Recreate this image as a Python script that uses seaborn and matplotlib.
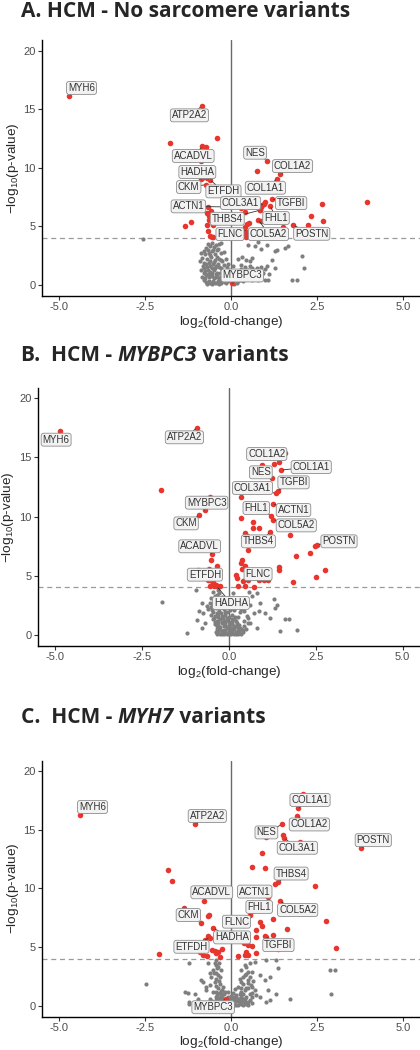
import numpy as np
import pandas as pd
import matplotlib
matplotlib.use('Agg')
import matplotlib.pyplot as plt
import seaborn as sns

# ---- data (log2 fold-change, -log10 p) ----
genes_a = ['MYH6', 'ATP2A2', 'ACADVL', 'HADHA', 'CKM', 'ETFDH', 'NES', 'COL1A2', 'COL1A1',
           'ACTN1', 'COL3A1', 'TGFBI', 'THBS4', 'FHL1', 'FLNC', 'COL5A2', 'POSTN', 'MYBPC3']
gene_fc_a = [-4.72, -0.85, -0.83, -0.87, -0.73, -0.61, 1.04, 1.43, 1.35,
             0.87, 0.91, 1.18, 0.85, 1.14, 0.42, 0.80, 1.81, 0.03]
gene_p_a = [16.13, 15.24, 11.82, 9.03, 8.55, 8.97, 10.60, 9.43, 9.06,
            6.61, 6.84, 7.32, 6.38, 6.75, 4.64, 5.56, 5.10, 0.15]
red_a = [(-0.42, 12.54), (-1.78, 12.11), (-0.73, 11.74), (-0.87, 10.6), (-0.83, 9.09), (-0.69, 9.09),
         (-0.68, 6.64), (-0.57, 6.32), (-0.71, 6.1), (-0.63, 5.84), (-0.65, 5.5), (-0.71, 5.1),
         (-0.52, 5.07), (-0.68, 4.64), (-0.61, 4.2), (-0.52, 4.1), (-0.55, 4.05), (-1.34, 4.99),
         (-1.15, 5.36), (0.75, 9.74), (1.0, 7.09), (0.85, 6.38), (0.40, 6.21), (0.87, 5.41),
         (0.51, 5.27), (0.46, 5.21), (0.42, 4.93), (0.43, 4.36), (0.44, 4.05), (1.59, 6.09),
         (1.50, 4.98), (2.64, 6.92), (2.34, 5.87), (2.69, 5.41), (2.25, 5.15), (3.96, 7.07),
         (0.30, 6.6), (0.95, 6.9)]
grey_a = [(-0.68, 3.5), (-0.55, 3.55), (-0.45, 3.4), (-0.62, 3.3), (-0.35, 3.45), (-0.5, 3.2),
          (-0.28, 3.6), (-0.72, 3.15), (-0.8, 2.9), (-0.66, 3.0), (-0.55, 2.85), (-0.42, 2.95),
          (-0.3, 2.7), (-0.75, 2.6), (-0.6, 2.55), (-0.48, 2.65), (-0.88, 2.75), (-0.2, 2.8),
          (-0.85, 2.3), (-0.7, 2.2), (-0.58, 2.35), (-0.46, 2.1), (-0.35, 2.25), (-0.25, 2.0),
          (-0.8, 1.9), (-0.65, 1.85), (-0.5, 1.95), (-0.38, 1.8), (-0.15, 2.2), (-0.9, 2.05),
          (-0.82, 1.6), (-0.7, 1.5), (-0.6, 1.65), (-0.48, 1.4), (-0.36, 1.55), (-0.25, 1.3),
          (-0.12, 1.5), (-0.75, 1.2), (-0.62, 1.1), (-0.5, 1.25), (-0.4, 1.05), (-0.18, 1.1),
          (-0.05, 1.3), (-0.88, 1.3), (-0.85, 0.7), (-0.72, 0.8), (-0.6, 0.9), (-0.5, 0.6),
          (-0.4, 0.8), (-0.3, 0.7), (-0.2, 0.9), (-0.1, 0.75), (-0.78, 0.4), (-0.65, 0.3),
          (-0.52, 0.35), (-0.42, 0.2), (-0.32, 0.4), (-0.22, 0.3), (-0.12, 0.45), (-0.02, 0.55),
          (-0.7, 0.1), (-0.55, 0.1), (-0.35, 0.08), (-0.15, 0.12), (0.05, 0.2), (0.12, 0.5),
          (0.2, 0.3), (0.1, 0.05), (0.28, 0.6), (0.2, 2.2), (0.32, 2.35), (0.45, 2.1), (0.55, 2.0),
          (0.6, 2.3), (0.75, 1.45), (0.88, 1.5), (0.98, 1.35), (1.05, 1.6), (0.6, 1.2), (0.5, 0.9),
          (0.7, 1.0), (0.35, 1.0), (0.25, 0.8), (0.45, 0.5), (0.65, 0.6), (0.85, 0.7), (1.0, 0.4),
          (0.4, 1.5), (0.3, 1.7), (0.15, 1.2), (0.55, 1.6), (-2.55, 3.93), (0.5, 3.4), (0.7, 3.3),
          (0.87, 3.1), (1.04, 3.36), (0.78, 3.65), (1.28, 2.85), (1.57, 3.13), (2.06, 2.48),
          (2.11, 1.42), (1.77, 0.43), (1.91, 0.43), (1.18, 2.14), (1.28, 1.42), (1.09, 0.43),
          (1.11, 0.91), (1.33, 2.99), (1.67, 3.33),
          (-0.8, 1.0), (-0.68, 0.95), (-0.56, 1.0), (-0.45, 0.95), (-0.33, 1.0), (-0.22, 1.05),
          (-0.1, 1.0), (0.0, 0.95), (-0.75, 0.6), (-0.63, 0.65), (-0.55, 0.75), (-0.45, 0.7),
          (-0.35, 0.6), (-0.25, 0.75), (-0.15, 0.65), (-0.05, 0.8), (0.05, 0.7), (0.15, 0.85),
          (-0.72, 0.25), (-0.6, 0.2), (-0.48, 0.15), (-0.38, 0.3), (-0.28, 0.2), (-0.18, 0.25),
          (-0.08, 0.3), (0.02, 0.4), (0.18, 0.15), (0.25, 0.45), (0.35, 0.3), (0.38, 0.7),
          (-0.78, 1.4), (-0.66, 1.3), (-0.55, 1.45), (-0.43, 1.6), (-0.3, 1.45), (-0.2, 1.7),
          (-0.08, 1.8), (0.05, 1.6), (-0.72, 1.75), (-0.6, 2.0), (-0.53, 1.8), (-0.42, 2.4),
          (-0.3, 2.1), (-0.63, 2.7), (-0.52, 3.0), (-0.38, 3.1), (0.5, 1.3), (0.62, 1.4),
          (0.72, 1.2), (0.82, 1.1), (0.92, 1.05), (0.4, 1.25), (0.3, 1.35), (0.55, 0.75),
          (0.7, 0.8), (0.8, 0.45), (0.9, 0.9), (0.6, 0.45), (0.35, 0.6), (0.2, 1.0)]

genes_b = ['MYH6', 'ATP2A2', 'COL1A2', 'NES', 'COL1A1', 'TGFBI', 'COL3A1', 'MYBPC3', 'CKM',
           'FHL1', 'ACTN1', 'COL5A2', 'THBS4', 'POSTN', 'ACADVL', 'ETFDH', 'FLNC', 'HADHA']
gene_fc_b = [-4.87, -0.92, 1.62, 1.25, 1.50, 1.40, 1.35, -0.70, -0.85,
             1.22, 1.26, 1.27, 1.19, 2.55, -0.49, -0.45, 0.47, -0.35]
gene_p_b = [17.24, 17.49, 15.37, 13.28, 13.93, 12.16, 11.96, 10.52, 10.13,
            10.07, 11.06, 9.73, 8.66, 7.61, 6.85, 4.5, 5.6, 4.1]
red_b = [(-1.96, 12.27), (-0.54, 11.65), (1.45, 14.61), (1.31, 14.47), (0.96, 14.33), (0.34, 11.65),
         (0.34, 9.90), (0.69, 9.5), (0.86, 9.03), (0.69, 9.03), (0.47, 8.6), (0.53, 8.38),
         (0.56, 7.19), (1.76, 8.46), (2.49, 7.47), (2.33, 6.91), (1.94, 6.62), (0.37, 6.29),
         (0.34, 6.07), (0.47, 5.84), (1.45, 5.73), (1.45, 5.44), (2.77, 5.50), (2.51, 4.85),
         (1.84, 4.49), (1.0, 4.65), (1.14, 4.65), (0.87, 4.65), (0.21, 5.05), (0.23, 4.8),
         (0.37, 5.59), (0.55, 4.65), (0.42, 4.51), (0.71, 4.03), (0.47, 4.09), (0.26, 4.09),
         (0.63, 5.39), (-0.52, 6.35), (-0.33, 5.78), (-0.56, 5.56), (-0.90, 5.50), (-0.63, 4.94),
         (-0.59, 4.65), (-0.48, 4.51), (-0.36, 4.23), (-0.25, 4.15), (-0.54, 4.15), (-0.44, 4.09)]
grey_b = [(-0.45, 3.6), (-0.35, 3.4), (-0.3, 3.75), (-0.5, 3.1), (-0.4, 2.9), (-0.25, 3.0),
          (-0.55, 2.7), (-0.45, 2.5), (-0.32, 2.6), (-0.2, 2.45), (-0.6, 2.2), (-0.48, 2.1),
          (-0.38, 2.25), (-0.28, 2.0), (-0.15, 2.15), (-0.05, 1.9), (-0.5, 1.7), (-0.4, 1.6),
          (-0.3, 1.75), (-0.2, 1.55), (-0.1, 1.65), (0.0, 1.5), (0.1, 1.7), (-0.45, 1.3),
          (-0.35, 1.2), (-0.25, 1.35), (-0.15, 1.15), (-0.05, 1.25), (0.05, 1.1), (0.15, 1.3),
          (0.22, 1.0), (-0.4, 0.9), (-0.3, 0.8), (-0.2, 0.95), (-0.1, 0.85), (0.0, 0.75),
          (0.1, 0.9), (0.2, 0.7), (0.3, 0.8), (-0.35, 0.45), (-0.25, 0.5), (-0.15, 0.4),
          (-0.05, 0.55), (0.05, 0.4), (0.15, 0.5), (0.25, 0.35), (0.35, 0.45), (-0.3, 0.15),
          (-0.2, 0.1), (-0.1, 0.2), (0.0, 0.1), (0.1, 0.15), (0.2, 0.08), (0.3, 0.12),
          (-0.38, 0.2), (0.4, 0.2), (0.05, 2.3), (0.15, 2.05), (-0.1, 2.6), (0.25, 1.5),
          (0.32, 1.9), (0.57, 3.58), (0.66, 3.24), (0.81, 3.53), (0.9, 2.68), (0.61, 2.54),
          (0.86, 1.97), (0.71, 1.83), (0.52, 1.55), (1.05, 1.83), (1.29, 3.02), (1.33, 2.26),
          (1.38, 2.54), (1.19, 1.41), (1.62, 1.33), (1.72, 1.33), (1.96, 0.42), (1.48, 0.28),
          (0.61, 0.99), (0.42, 0.42), (0.81, 0.56), (0.13, 3.53), (0.47, 2.82), (-0.94, 3.81),
          (-0.78, 2.68), (-0.87, 1.97), (-0.73, 1.83), (-0.92, 1.27), (-0.63, 2.4), (-1.21, 0.14),
          (-1.91, 2.76), (-0.68, 0.99), (-0.78, 0.56),
          (-0.35, 0.7), (-0.25, 0.65), (-0.15, 0.7), (-0.05, 0.65), (0.05, 0.6), (0.15, 0.7),
          (0.25, 0.6), (0.33, 0.6), (-0.3, 0.3), (-0.2, 0.3), (-0.1, 0.35), (0.0, 0.3),
          (0.1, 0.3), (0.2, 0.25), (0.3, 0.3), (-0.35, 0.05), (-0.25, 0.05), (-0.15, 0.05),
          (-0.05, 0.02), (0.05, 0.05), (0.15, 0.02), (0.25, 0.05), (0.35, 0.1), (-0.4, 1.1),
          (-0.3, 1.05), (-0.2, 1.1), (-0.1, 1.05), (0.0, 1.0), (0.1, 1.05), (0.2, 1.15),
          (-0.42, 1.45), (-0.3, 1.5), (-0.18, 1.4), (-0.06, 1.45), (0.08, 1.35), (0.18, 1.5),
          (-0.45, 1.9), (-0.35, 1.85), (-0.22, 1.8), (-0.1, 1.95), (0.02, 2.05), (-0.52, 2.35),
          (-0.3, 2.35), (-0.15, 2.7), (-0.4, 3.25), (-0.28, 3.55), (-0.2, 3.2), (0.45, 1.2),
          (0.55, 1.0), (0.45, 0.75), (0.5, 0.5), (0.55, 1.4), (0.35, 2.2), (0.45, 2.0),
          (0.4, 3.0), (0.3, 2.6)]

genes_c = ['MYH6', 'ATP2A2', 'COL1A1', 'COL1A2', 'NES', 'COL3A1', 'POSTN', 'THBS4', 'ACADVL',
           'ACTN1', 'FHL1', 'COL5A2', 'CKM', 'FLNC', 'HADHA', 'TGFBI', 'ETFDH', 'MYBPC3']
gene_fc_c = [-4.40, -1.04, 1.94, 1.93, 1.48, 1.55, 3.78, 1.38, -0.78,
             1.08, 0.61, 1.42, -0.88, 0.55, -0.52, 1.0, -0.62, -0.14]
gene_p_c = [16.23, 15.46, 16.83, 16.2, 15.46, 14.29, 13.41, 10.56, 8.96,
            9.24, 8.07, 8.90, 7.05, 7.75, 6.6, 5.9, 5.8, 0.6]
red_c = [(2.10, 18.03), (1.03, 14.35), (1.50, 14.52), (2.0, 14.0), (0.91, 13.01), (0.61, 11.81),
         (1.0, 11.73), (1.28, 10.36), (2.43, 10.19), (1.23, 7.42), (2.76, 7.19), (0.84, 7.10),
         (0.89, 6.82), (0.74, 6.45), (1.63, 6.56), (0.72, 5.82), (1.23, 5.99), (1.03, 5.88),
         (0.37, 5.31), (0.50, 5.16), (0.61, 5.08), (0.45, 4.59), (0.40, 4.31), (0.50, 4.31),
         (0.74, 4.51), (0.20, 4.25), (1.37, 4.79), (3.05, 4.94), (-1.82, 11.61), (-1.73, 10.67),
         (-1.36, 8.30), (-0.54, 10.04), (-0.65, 7.70), (-0.68, 7.65), (-0.67, 5.96), (-0.75, 5.59),
         (-0.91, 4.59), (-0.82, 4.31), (-0.70, 4.25), (-0.56, 4.74), (-0.45, 4.45), (-0.37, 4.59),
         (-0.25, 4.85), (-0.33, 4.17), (-2.10, 4.42), (-0.47, 4.7)]
grey_c = [(-0.43, 3.88), (-0.48, 3.6), (-0.38, 3.31), (-0.53, 3.02), (-0.43, 2.74), (-0.57, 2.45),
          (-0.33, 2.45), (-0.48, 2.03), (-0.33, 1.88), (-0.62, 1.74), (-0.23, 1.6), (-0.38, 1.46),
          (-0.72, 1.31), (-0.53, 1.17), (-0.18, 1.17), (-1.21, 3.6), (-0.87, 2.17), (-0.82, 2.03),
          (-1.35, 1.17), (-1.25, 1.08), (-1.06, 1.03), (-1.21, 0.31), (-0.96, 0.6), (-0.72, 1.6),
          (-0.62, 2.74), (-0.67, 3.6), (-2.47, 1.88), (-1.21, 0.17), (0.3, 3.02), (0.45, 3.31),
          (0.54, 3.6), (0.4, 2.6), (0.25, 2.31), (0.5, 2.17), (0.35, 1.88), (0.59, 1.74),
          (0.2, 1.6), (0.45, 1.46), (0.69, 1.31), (0.3, 1.17), (0.54, 1.03), (0.74, 0.88),
          (0.16, 0.88), (1.03, 3.88), (1.32, 3.88), (0.84, 2.6), (0.98, 2.17), (1.13, 2.45),
          (1.08, 1.31), (1.32, 1.03), (1.03, 0.31), (1.13, 0.46), (1.71, 0.6), (0.84, 0.74),
          (1.37, 3.22), (2.88, 3.08), (3.03, 3.08), (2.91, 1.03), (0.7, 3.7), (0.6, 2.9),
          (-0.4, 0.9), (-0.3, 0.8), (-0.2, 0.95), (-0.1, 0.7), (0.0, 0.85), (0.1, 0.75),
          (0.2, 0.6), (0.3, 0.7), (0.4, 0.55), (-0.45, 0.5), (-0.35, 0.4), (-0.25, 0.55),
          (-0.15, 0.35), (-0.05, 0.45), (0.05, 0.3), (0.15, 0.4), (0.25, 0.25), (0.35, 0.35),
          (0.5, 0.3), (-0.3, 0.15), (-0.2, 0.1), (-0.1, 0.2), (0.0, 0.05), (0.1, 0.12),
          (0.2, 0.08), (0.3, 0.1), (0.45, 0.12), (0.6, 0.2), (-0.5, 0.2), (-0.6, 0.6),
          (-0.1, 1.2), (0.05, 1.1), (-0.25, 1.3), (0.12, 1.4),
          (-0.55, 0.35), (-0.4, 0.3), (-0.3, 0.45), (-0.2, 0.35), (-0.1, 0.45), (0.0, 0.35),
          (0.1, 0.45), (0.2, 0.35), (0.3, 0.45), (0.4, 0.3), (0.55, 0.5), (-0.45, 0.75),
          (-0.35, 0.65), (-0.25, 0.75), (-0.15, 0.6), (-0.05, 0.65), (0.05, 0.6), (0.15, 0.7),
          (0.25, 0.55), (0.35, 0.6), (0.45, 0.75), (0.6, 0.7), (-0.4, 0.05), (-0.25, 0.05),
          (-0.15, 0.0), (0.05, 0.0), (0.15, 0.05), (0.35, 0.05), (0.5, 0.05), (-0.35, 1.05),
          (-0.25, 1.0), (-0.3, 1.25), (-0.45, 1.15), (0.25, 0.95), (0.35, 1.0), (0.4, 1.3),
          (0.3, 1.5), (0.6, 1.1), (0.5, 1.5), (-0.45, 1.7), (-0.35, 2.1), (-0.45, 2.25),
          (-0.38, 2.6), (-0.5, 2.8), (-0.4, 3.2), (-0.35, 3.6), (-0.45, 3.5), (-0.3, 3.0),
          (0.35, 2.4), (0.45, 2.7), (0.5, 2.9), (0.4, 3.5), (0.55, 2.4), (0.3, 2.0),
          (0.5, 1.9), (0.6, 1.55), (0.65, 2.1)]

x_ticks = [-5.0, -2.5, 0.0, 2.5, 5.0]
x_tick_labels = ['-5.0', '-2.5', '0.0', '2.5', '5.0']
y_ticks = [0, 5, 10, 15, 20]
p_cutoff = 4

# ---- layout: where ggrepel put each label (data coords) ----
lab_a = [(-4.35, 16.81), (-1.21, 14.47), (-1.10, 11.0), (-0.98, 9.63), (-1.23, 8.35), (-0.22, 7.98),
         (0.70, 11.28), (1.79, 10.14), (1.0, 8.29), (-1.24, 6.70), (0.28, 6.98), (1.75, 6.98),
         (-0.11, 5.64), (1.31, 5.70), (-0.03, 4.33), (1.09, 4.33), (2.35, 4.36), (0.33, 0.80)]
lab_b = [(-4.97, 16.5), (-1.28, 16.7), (1.09, 15.29), (0.92, 13.74), (2.37, 14.19), (1.86, 12.89),
         (0.68, 12.41), (-0.64, 11.17), (-1.23, 9.42), (0.79, 10.72), (1.86, 10.55), (1.94, 9.25),
         (0.85, 7.90), (3.17, 7.90), (-0.84, 7.48), (-0.69, 5.08), (0.84, 5.13), (0.06, 2.68)]
lab_c = [(-4.03, 16.95), (-0.69, 16.18), (2.30, 17.55), (2.28, 15.46), (1.03, 14.78), (1.93, 13.47),
         (4.14, 14.12), (1.75, 11.27), (-0.56, 9.67), (0.69, 9.73), (0.82, 8.42), (1.94, 8.16),
         (-1.24, 7.73), (0.16, 7.16), (0.03, 5.82), (1.38, 5.16), (-1.15, 5.02), (-0.52, -0.14)]

sns.set_style('white')
plt.rcParams['font.family'] = ['Liberation Sans', 'DejaVu Sans']
plt.rcParams['mathtext.fontset'] = 'custom'
plt.rcParams['mathtext.rm'] = 'Liberation Sans'
plt.rcParams['mathtext.it'] = 'Liberation Sans:italic'

RED = '#e8352d'
GREY = '#7f7f7f'

fig = plt.figure(figsize=(4.2, 10.5), dpi=100)


def volcano(ax, genes, gfc, gp, red, grey, labels):
    grey_df = pd.DataFrame(grey, columns=['fc', 'p'])
    red_df = pd.DataFrame(red + list(zip(gfc, gp)), columns=['fc', 'p'])
    ax.axvline(0, color='#6a6a6a', lw=1.0, zorder=1)
    ax.axhline(p_cutoff, color='#9a9a9a', lw=0.9, ls=(0, (4, 3)), zorder=1)
    sns.scatterplot(data=grey_df, x='fc', y='p', color=GREY, s=9, linewidth=0, ax=ax, zorder=2)
    sns.scatterplot(data=red_df, x='fc', y='p', color=RED, s=16, linewidth=0, ax=ax, zorder=3)
    for g, fx, py, (lx, ly) in zip(genes, gfc, gp, labels):
        ax.annotate(g, xy=(fx, py), xytext=(lx, ly), ha='center', va='center',
                    fontsize=7, color='#333333', zorder=4,
                    bbox=dict(boxstyle='round,pad=0.15,rounding_size=0.25', fc='#f2f2f2',
                              ec='#8c8c8c', lw=0.6),
                    arrowprops=dict(arrowstyle='-', color='#333333', lw=0.6,
                                    shrinkA=0, shrinkB=1.5))
    ax.set_xlim(-5.5, 5.5)
    ax.set_ylim(-0.95, 20.9)
    ax.set_xticks(x_ticks)
    ax.set_xticklabels(x_tick_labels)
    ax.set_yticks(y_ticks)
    ax.set_xlabel('log$_2$(fold-change)', fontsize=9.7, labelpad=1)
    ax.set_ylabel('\u2212log$_{10}$(p-value)', fontsize=9.7, labelpad=2)
    sns.despine(ax=ax)
    for s in ['left', 'bottom']:
        ax.spines[s].set_color('black')
        ax.spines[s].set_linewidth(1.0)
    ax.tick_params(length=3, width=0.8, color='#333333', labelcolor='#4d4d4d',
                   labelsize=8, pad=1.5, bottom=True, left=True)


def title(y, parts):
    r = fig.canvas.get_renderer()
    x = 21 / 420
    for txt, st in parts:
        t = fig.text(x, y, txt, fontsize=15, fontweight='bold', style=st,
                     family=['Open Sans', 'DejaVu Sans'], va='baseline')
        x += t.get_window_extent(r).width / fig.bbox.width


ax_a = fig.add_axes([0.10, 0.7181, 0.90, 0.2438])
ax_b = fig.add_axes([0.0898, 0.3848, 0.9102, 0.246])
ax_c = fig.add_axes([0.10, 0.0317, 0.90, 0.2438])

volcano(ax_a, genes_a, gene_fc_a, gene_p_a, red_a, grey_a, lab_a)
volcano(ax_b, genes_b, gene_fc_b, gene_p_b, red_b, grey_b, lab_b)
volcano(ax_c, genes_c, gene_fc_c, gene_p_c, red_c, grey_c, lab_c)

title(1 - 17 / 1050, [('A. HCM - No sarcomere variants', 'normal')])
title(1 - 361 / 1050, [('B.  HCM - ', 'normal'), ('MYBPC3', 'italic'), (' variants', 'normal')])
title(1 - 723 / 1050, [('C.  HCM - ', 'normal'), ('MYH7', 'italic'), (' variants', 'normal')])

fig.savefig('out.png', dpi=100)
